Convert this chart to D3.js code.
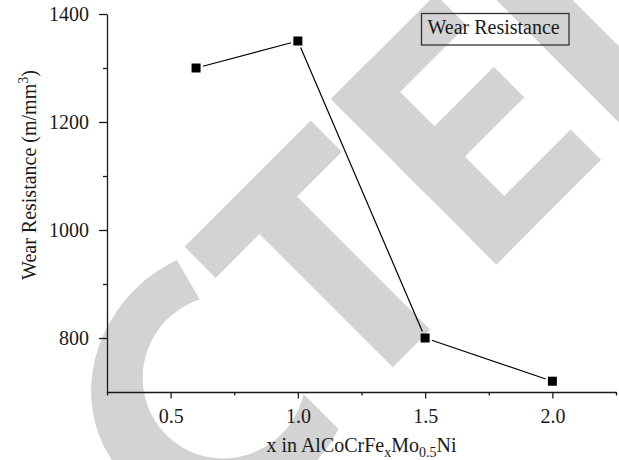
<!DOCTYPE html>
<html>
<head>
<meta charset="utf-8">
<script src="https://cdn.jsdelivr.net/npm/d3@7/dist/d3.min.js"></script>
<style>
  html, body { margin: 0; padding: 0; background: #fff; }
  svg { display: block; }
  text { font-family: "Liberation Serif", "DejaVu Serif", serif; fill: #1a1a1a; }
</style>
</head>
<body>
<svg id="chart" width="619" height="460"></svg>
<script>
// Composition x in AlCoCrFe_xMo0.5Ni and measured wear resistance (m/mm^3)
const feContent = [0.6, 1.0, 1.5, 2.0];
const wearResistance = [1300, 1350, 800, 720];
const xMajorTicks = [0.5, 1.0, 1.5, 2.0];
const xMinorTicks = [0.25, 0.75, 1.25, 1.75, 2.25];
const yMajorTicks = [800, 1000, 1200, 1400];
const yMinorTicks = [900, 1100, 1300];
const seriesName = "Wear Resistance";

const W = 619, H = 460;
const svg = d3.select("#chart");

const x = d3.scaleLinear().domain([0.25, 2.25]).range([107, 616]);
const y = d3.scaleLinear().domain([700, 1400]).range([392, 14]);

// ---- background stamp lettering (grey, rotated 45deg) ----
const stampGrey = "#d3d3d3";
const stamp = svg.append("g").attr("transform", "rotate(-45)");
const bars = [
  // T
  [-44, 305, 178.5, 44], [18, 349, 53, 188.5],
  // E
  [164, 304, 54, 234], [164, 304, 148, 44], [164, 396.5, 138, 43], [164, 495, 148, 43],
  // D stem
  [351, 304, 54, 234]
];
stamp.selectAll("rect.bar").data(bars).join("rect")
  .attr("class", "bar")
  .attr("x", d => d[0]).attr("y", d => d[1])
  .attr("width", d => d[2]).attr("height", d => d[3])
  .attr("fill", stampGrey);

// C: elliptical ring opened on the right
const ell = (cx, cy, rx, ry) =>
  `M${cx - rx},${cy}a${rx},${ry} 0 1,0 ${2 * rx},0a${rx},${ry} 0 1,0 ${-2 * rx},0Z`;
const defs = svg.append("defs");
defs.append("clipPath").attr("id", "cClip")
  .append("polygon")
  .attr("points", "-400,150 -16.3,150 -89.8,425 -64,470 -64,700 -400,700");
stamp.append("path")
  .attr("d", ell(-110, 425, 138, 125) + ell(-108, 425, 82, 81))
  .attr("fill-rule", "evenodd")
  .attr("fill", stampGrey)
  .attr("clip-path", "url(#cClip)");

// ---- axes ----
const axisColor = "#1a1a1a";
function styleAxis(g) {
  g.selectAll("path.domain").attr("stroke", axisColor).attr("stroke-width", 1.3);
  g.selectAll(".tick line").attr("stroke", axisColor).attr("stroke-width", 1.3);
  g.selectAll(".tick text")
    .attr("font-family", '"Liberation Serif", serif')
    .attr("font-size", 20).attr("fill", "#1a1a1a");
}

const yAxis = svg.append("g").attr("transform", `translate(${x.range()[0]},0)`)
  .call(d3.axisLeft(y).tickValues(yMajorTicks).tickSize(8).tickSizeOuter(0)
    .tickPadding(10).tickFormat(d3.format("d")));
styleAxis(yAxis);
const yMinor = svg.append("g").attr("transform", `translate(${x.range()[0]},0)`)
  .call(d3.axisLeft(y).tickValues(yMinorTicks).tickSize(4).tickFormat(""));
yMinor.select("path.domain").remove();
styleAxis(yMinor);

const xAxis = svg.append("g").attr("transform", `translate(0,${y.range()[0]})`)
  .call(d3.axisBottom(x).tickValues(xMajorTicks).tickSize(6.5).tickSizeOuter(0)
    .tickPadding(10).tickFormat(d3.format(".1f")));
styleAxis(xAxis);
const xMinor = svg.append("g").attr("transform", `translate(0,${y.range()[0]})`)
  .call(d3.axisBottom(x).tickValues(xMinorTicks).tickSize(3.5).tickFormat(""));
xMinor.select("path.domain").remove();
styleAxis(xMinor);

// ---- axis titles ----
const xt = svg.append("text")
  .attr("x", (x.range()[0] + x.range()[1]) / 2).attr("y", 452)
  .attr("text-anchor", "middle").attr("font-size", 20);
xt.append("tspan").text("x in AlCoCrFe");
xt.append("tspan").attr("font-size", 14).attr("dy", 4.5).text("x");
xt.append("tspan").attr("dy", -4.5).text("Mo");
xt.append("tspan").attr("font-size", 14).attr("dy", 4.5).text("0.5");
xt.append("tspan").attr("dy", -4.5).text("Ni");

const yt = svg.append("text")
  .attr("transform", "translate(36,175) rotate(-90)")
  .attr("text-anchor", "middle").attr("font-size", 20);
yt.append("tspan").text("Wear Resistance (m/mm");
yt.append("tspan").attr("font-size", 14).attr("dy", -8).text("3");
yt.append("tspan").attr("dy", 8).text(")");

// ---- series ----
const pts = feContent.map((v, i) => [x(v), y(wearResistance[i])]);
const gap = 7;
const segs = d3.pairs(pts).map(([a, b]) => {
  const dx = b[0] - a[0], dy = b[1] - a[1], len = Math.hypot(dx, dy);
  const ux = dx / len, uy = dy / len;
  return [[a[0] + ux * gap, a[1] + uy * gap], [b[0] - ux * gap, b[1] - uy * gap]];
});
const line = d3.line();
svg.append("g").selectAll("path").data(segs).join("path")
  .attr("d", line).attr("fill", "none").attr("stroke", "#000").attr("stroke-width", 1.2);

const ms = 9;
svg.append("g").selectAll("rect").data(feContent).join("rect")
  .attr("x", (d) => x(d) - ms / 2)
  .attr("y", (d, i) => y(wearResistance[i]) - ms / 2)
  .attr("width", ms).attr("height", ms).attr("fill", "#000");

// ---- legend ----
const lg = svg.append("g");
lg.append("rect").attr("x", 421.5).attr("y", 13.5).attr("width", 147.5).attr("height", 31.5)
  .attr("fill", "none").attr("stroke", "#333").attr("stroke-width", 1.3);
lg.append("text").attr("x", 427.5).attr("y", 34).attr("font-size", 20).text(seriesName);
</script>
</body>
</html>
